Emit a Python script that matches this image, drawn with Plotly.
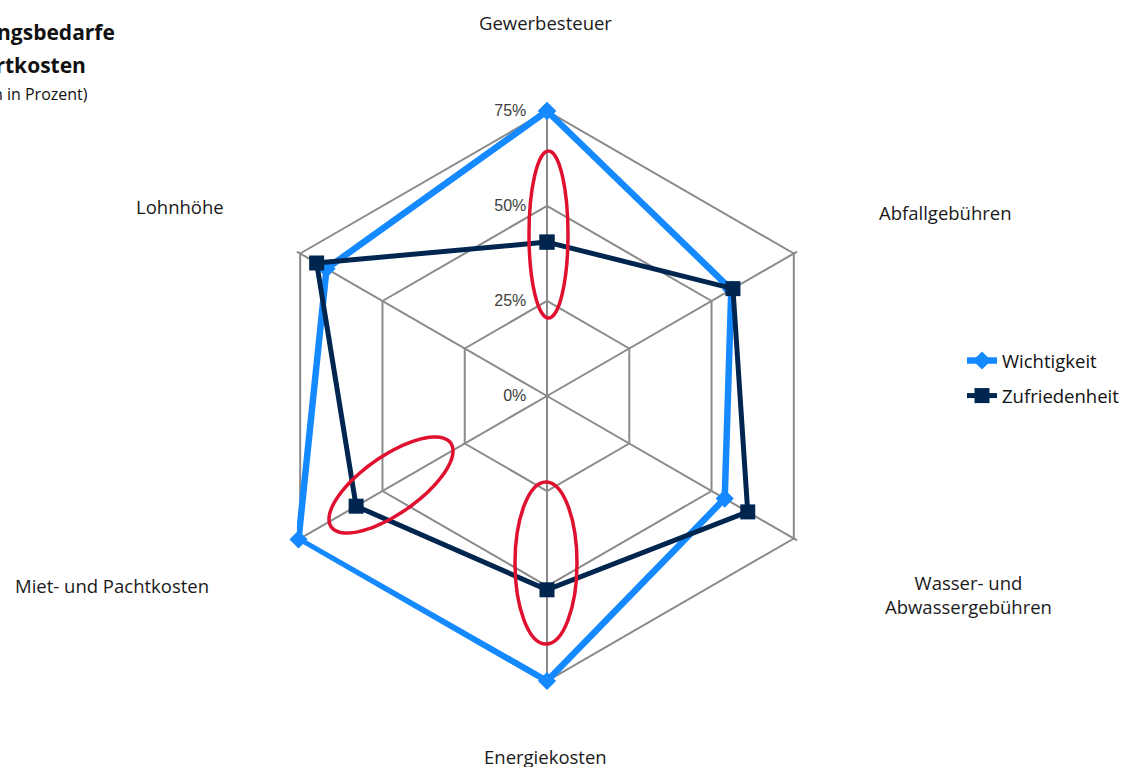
import numpy as np
import plotly.graph_objects as go

categories = ["Gewerbesteuer", "Abfallgebühren", "Wasser- und Abwassergebühren",
              "Energiekosten", "Miet- und Pachtkosten", "Lohnhöhe"]
label_texts = ["Gewerbesteuer", "Abfallgebühren", "Wasser- und<br>Abwassergebühren",
               "Energiekosten", "Miet- und Pachtkosten", "Lohnhöhe"]
wichtigkeit = [75, 56, 54, 75, 75.5, 67]
zufriedenheit = [40.5, 56.5, 61, 51, 58, 70]
radial_ticks = [0, 25, 50, 75]
radial_ticktext = ["0%", "25%", "50%", "75%"]
title_lines = ["Handlungsbedarfe", "Standortkosten", "(Angaben in Prozent)"]

W, H = 1135, 767
# styling: label centres in pixels
label_pos = [(545, 22), (945, 212), (968, 594), (545, 756), (112, 585), (180, 207)]

FONT = "Open Sans"
BLUE = "#1589ff"
NAVY = "#00264f"
RED = "#e0102f"
GRID = "#8a8a8a"
PAD = "\u00a0" * 4
RMAX = 76.0          # a little head-room so marks on the outer ring are not clipped
CX, CY, R75 = 547, 396, 285   # centre and pixel radius of the 75 % ring

def px(x, y):
    return x / W, 1 - y / H

fig = go.Figure()
fig.add_trace(go.Scatterpolar(
    r=wichtigkeit + wichtigkeit[:1], theta=categories + categories[:1],
    mode="lines+markers", name="Wichtigkeit", legendgroup="a", cliponaxis=False,
    line=dict(color=BLUE, width=6.5),
    marker=dict(symbol="diamond", size=14, color=BLUE),
))
fig.add_trace(go.Scatterpolar(
    r=zufriedenheit + zufriedenheit[:1], theta=categories + categories[:1],
    mode="lines+markers", name="Zufriedenheit", legendgroup="b", cliponaxis=False,
    line=dict(color=NAVY, width=5),
    marker=dict(symbol="square", size=15, color=NAVY),
))

annotations = []
for txt, (x, y) in zip(label_texts, label_pos):
    ax, ay = px(x, y)
    annotations.append(dict(x=ax, y=ay, xref="paper", yref="paper", text=txt,
                            showarrow=False, xanchor="center", yanchor="middle",
                            font=dict(family=FONT, size=18.5, color="#1a1a1a")))

title_specs = [(title_lines[0], 117, 32, 21, True),
               (title_lines[1], 88, 65, 21, True),
               (title_lines[2], 90, 94, 16, False)]
for txt, x, y, size, bold in title_specs:
    ax, ay = px(x, y)
    annotations.append(dict(x=ax, y=ay, xref="paper", yref="paper",
                            text=f"<b>{txt}</b>" if bold else txt,
                            showarrow=False, xanchor="right", yanchor="middle",
                            font=dict(family=FONT, size=size, color="#111111")))

shapes = []
for (x0, y0, x1, y1) in [(529, 151, 568, 318), (515, 482, 577, 644)]:
    a0, b0 = px(x0, y1)
    a1, b1 = px(x1, y0)
    shapes.append(dict(type="circle", xref="paper", yref="paper",
                       x0=a0, y0=b0, x1=a1, y1=b1,
                       line=dict(color=RED, width=3.5)))
# rotated ellipse
cx, cy, a, b, th = 391, 485, 73, 28.7, np.deg2rad(35)
t = np.linspace(0, 2 * np.pi, 80)
xs = cx + a * np.cos(t) * np.cos(th) + b * np.sin(t) * np.sin(th)
ys = cy - a * np.cos(t) * np.sin(th) + b * np.sin(t) * np.cos(th)
pts = [px(x, y) for x, y in zip(xs, ys)]
path = "M " + " L ".join(f"{p[0]:.5f},{p[1]:.5f}" for p in pts) + " Z"
shapes.append(dict(type="path", xref="paper", yref="paper", path=path,
                   line=dict(color=RED, width=3.5)))

RPIX = R75 * RMAX / 75
dx0, dy0 = px(CX - RPIX, CY + RPIX)
dx1, dy1 = px(CX + RPIX, CY - RPIX)

fig.update_layout(
    width=W, height=H,
    margin=dict(l=0, r=0, t=0, b=0),
    paper_bgcolor="white", plot_bgcolor="white",
    polar=dict(
        domain=dict(x=[dx0, dx1], y=[dy0, dy1]),
        gridshape="linear",
        bgcolor="white",
        radialaxis=dict(range=[0, RMAX], tickvals=radial_ticks,
                        ticktext=[t_ + PAD for t_ in radial_ticktext],
                        angle=90, tickangle=90, side="counterclockwise",
                        showline=False, ticks="", layer="below traces",
                        gridcolor=GRID, gridwidth=1.7,
                        tickfont=dict(family="Liberation Sans", size=16, color="#404040")),
        angularaxis=dict(direction="clockwise", rotation=90,
                         showticklabels=False, ticks="", layer="below traces",
                         showline=False,
                         gridcolor=GRID, gridwidth=1.7),
    ),
    showlegend=True,
    legend=dict(x=px(962, 0)[0], y=px(0, 342)[1], xanchor="left", yanchor="top",
                font=dict(family=FONT, size=18.5, color="#111111"),
                tracegroupgap=8, bgcolor="rgba(0,0,0,0)"),
    annotations=annotations,
    shapes=shapes,
)

fig.write_html("out.html", config={"displayModeBar": False},
               post_script="document.body.style.margin='0px';document.body.style.overflow='hidden';")
